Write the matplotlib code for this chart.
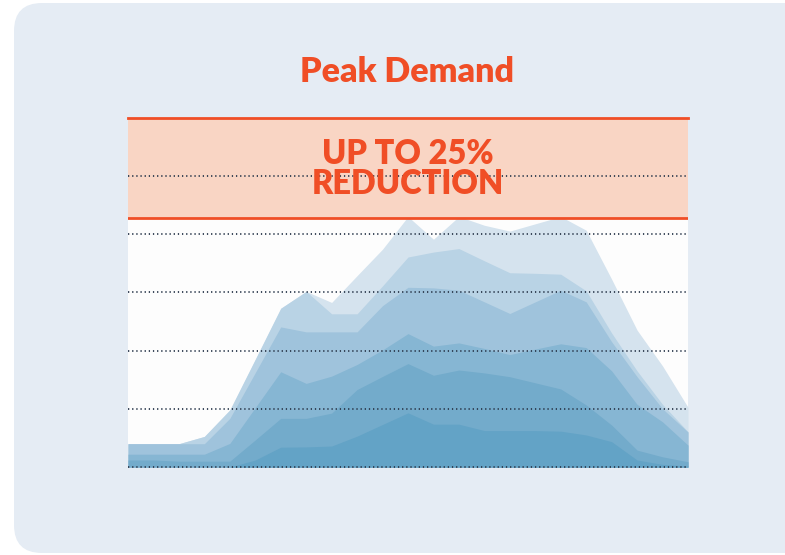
import matplotlib
matplotlib.use("Agg")
import matplotlib.pyplot as plt
from matplotlib.patches import FancyBboxPatch
from matplotlib.transforms import IdentityTransform

# ---- data (demand profiles, 0-120 scale) ----
hours = [0, 1, 2, 3, 4, 5, 6, 7, 8, 9, 10, 11, 12, 13, 14, 15, 16, 17, 18, 19, 20, 21, 22]

layer1 = [8.0, 8.0, 8.0, 10.5, 19.6, 37.0, 54.5, 60.3, 56.5, 65.7, 74.8, 86.0, 78.2, 86.0,
          83.0, 81.0, 83.5, 86.0, 81.3, 64.5, 47.0, 34.7, 20.5]
layer2 = [8.0, 8.0, 8.0, 10.5, 19.6, 37.0, 54.5, 60.3, 52.6, 52.6, 62.2, 72.1, 73.8, 75.0,
          70.8, 66.7, 66.5, 66.2, 60.5, 46.0, 33.0, 21.5, 12.1]
layer3 = [8.0, 8.0, 8.0, 8.0, 16.7, 32.4, 48.1, 46.4, 46.4, 46.4, 55.4, 61.7, 61.5, 60.7,
          56.7, 52.7, 56.7, 60.7, 56.7, 43.0, 31.0, 20.0, 12.0]
layer4 = [4.4, 4.4, 4.4, 4.4, 8.1, 20.4, 32.7, 28.7, 31.2, 35.2, 40.2, 45.8, 41.5, 42.6,
          40.7, 38.6, 40.5, 42.3, 41.0, 33.0, 21.5, 15.5, 7.5]
layer5 = [2.4, 2.4, 2.0, 2.0, 2.0, 9.3, 16.7, 16.7, 18.5, 26.6, 31.1, 35.5, 31.5, 33.3,
          32.3, 31.0, 28.9, 26.8, 21.3, 14.4, 5.8, 3.5, 1.8]
layer6 = [0.0, 0.0, 0.0, 0.0, 0.0, 2.4, 6.8, 6.9, 7.2, 10.6, 14.6, 18.6, 14.7, 14.7,
          12.5, 12.5, 12.5, 12.3, 11.0, 8.7, 2.4, 0.9, 0.3]

layers = [layer1, layer2, layer3, layer4, layer5, layer6]
layer_colors = ["#d5e3ee", "#b9d3e5", "#9fc3dc", "#86b6d3", "#73abcb", "#63a3c6"]

grid_levels = [0, 20, 40, 60, 80, 100]
band_low, band_high = 85.5, 120

title = "Peak Demand"
band_line1 = "UP TO 25%"
band_line2 = "REDUCTION"

ORANGE = "#f04e26"
PANEL = "#e5ecf4"
PEACH = "#f9d5c4"
FONT = ["Lato", "DejaVu Sans"]

fig = plt.figure(figsize=(7.85, 5.55), dpi=100)
fig.patch.set_facecolor("white")

panel = FancyBboxPatch((14, 2), 820, 550,
                       boxstyle="round,pad=0,rounding_size=28",
                       transform=IdentityTransform(), facecolor=PANEL,
                       edgecolor="none", zorder=-10)
fig.patches.append(panel)

ax = fig.add_axes([128 / 785, 88 / 555, 560 / 785, 349.5 / 555])
ax.set_zorder(1)
ax.set_facecolor("#fdfdfd")
ax.set_xlim(hours[0], hours[-1])
ax.set_ylim(0, band_high)
for s in ax.spines.values():
    s.set_visible(False)
ax.set_xticks([])
ax.set_yticks([])

for vals, c in zip(layers, layer_colors):
    ax.fill_between(hours, 0, vals, color=c, lw=0, zorder=1)

ax.axhspan(band_low, band_high, color=PEACH, lw=0, zorder=2)

for g in grid_levels:
    ax.axhline(g, color="#2c3a4d", lw=1.3, ls=(0, (0.7, 1.6)), zorder=3, clip_on=False)

ax.axhline(band_low, color=ORANGE, lw=2.0, zorder=4)
ax.axhline(band_high, color=ORANGE, lw=2.0, zorder=4, clip_on=False)

xmid = (hours[0] + hours[-1]) / 2
ax.text(xmid, 104.2, band_line1, ha="center", va="baseline",
        fontsize=23.5, fontweight="heavy", color=ORANGE, family=FONT, zorder=5)
ax.text(xmid, 93.6, band_line2, ha="center", va="baseline",
        fontsize=23.5, fontweight="heavy", color=ORANGE, family=FONT, zorder=5)

fig.text(407 / 785, 1 - 82 / 555, title, ha="center", va="baseline",
         fontsize=24.5, fontweight="heavy", color=ORANGE, family=FONT)

fig.savefig("out.png", dpi=100)
